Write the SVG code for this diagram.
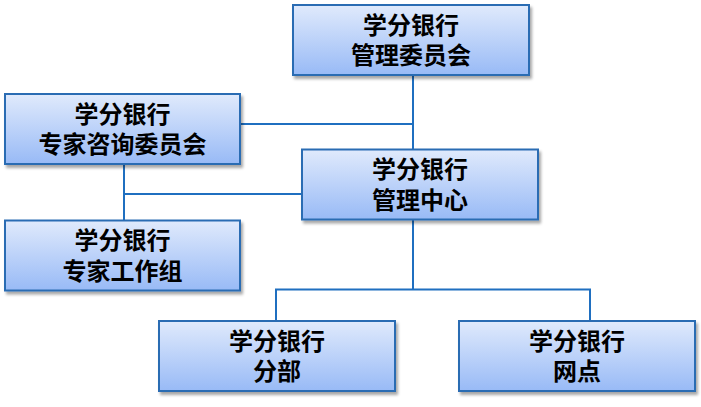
<svg xmlns="http://www.w3.org/2000/svg" width="701" height="407" viewBox="0 0 701 407">
<defs>
<linearGradient id="g" x1="0" y1="0" x2="0" y2="1">
<stop offset="0" stop-color="#e0eafc"/>
<stop offset="1" stop-color="#98baf6"/>
</linearGradient>
<filter id="sh" x="-5%" y="-5%" width="115%" height="125%">
<feGaussianBlur in="SourceAlpha" stdDeviation="1.5"/>
<feOffset dx="2" dy="3" result="b"/>
<feComponentTransfer><feFuncA type="linear" slope="0.35"/></feComponentTransfer>
<feMerge><feMergeNode/><feMergeNode in="SourceGraphic"/></feMerge>
</filter>
</defs>
<style>
.box{fill:url(#g);stroke:#2a6cb3;stroke-width:2;filter:url(#sh)}
.t{font-family:"Noto Sans CJK SC","Noto Sans",sans-serif;font-weight:bold;font-size:24px;fill:#000;text-anchor:middle}
.c{fill:none;stroke:#1f6fc0;stroke-width:2}
</style>
<rect width="701" height="407" fill="#fff"/>
<g id="connectors">
<path class="c" d="M413,75V149"/>
<path class="c" d="M240,124H413"/>
<path class="c" d="M124,164V221"/>
<path class="c" d="M124,194H302"/>
<path class="c" d="M413,219V289.5"/>
<path class="c" d="M276,321V289.5H590V321"/>
</g>
<g id="n1"><rect class="box" x="293" y="5" width="236" height="70"/><text class="t" x="411" y="33.5">学分银行</text><text class="t" x="411" y="64">管理委员会</text></g>
<g id="n2"><rect class="box" x="5" y="94" width="235" height="70"/><text class="t" x="122.5" y="122.5">学分银行</text><text class="t" x="122.5" y="153">专家咨询委员会</text></g>
<g id="n3"><rect class="box" x="5" y="220.5" width="235" height="70"/><text class="t" x="122.5" y="249">学分银行</text><text class="t" x="122.5" y="279.5">专家工作组</text></g>
<g id="n4"><rect class="box" x="302" y="149.5" width="236" height="70"/><text class="t" x="420" y="178">学分银行</text><text class="t" x="420" y="208.5">管理中心</text></g>
<g id="n5"><rect class="box" x="159" y="321" width="236" height="70"/><text class="t" x="277" y="349.5">学分银行</text><text class="t" x="277" y="380">分部</text></g>
<g id="n6"><rect class="box" x="459" y="321" width="236" height="70"/><text class="t" x="577" y="349.5">学分银行</text><text class="t" x="577" y="380">网点</text></g>
</svg>
